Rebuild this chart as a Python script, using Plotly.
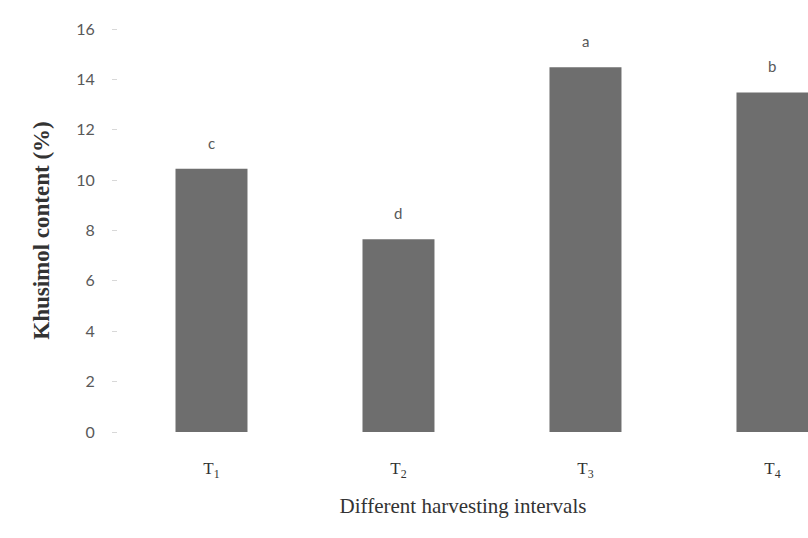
import plotly.graph_objects as go

categories = ["T<sub>1</sub>", "T<sub>2</sub>", "T<sub>3</sub>", "T<sub>4</sub>"]
values = [10.45, 7.65, 14.48, 13.48]
letters = ["c", "d", "a", "b"]
y_ticks = [0, 2, 4, 6, 8, 10, 12, 14, 16]

fig = go.Figure()
fig.add_trace(go.Bar(x=categories, y=values, marker=dict(color="#6e6e6e", line=dict(width=0)),
                     width=0.385))

for c, v, l in zip(categories, values, letters):
    fig.add_annotation(x=c, y=v, text=l, showarrow=False, yshift=26,
                       font=dict(family="Lato, Open Sans, sans-serif", size=15, color="#595959"))

fig.update_layout(
    width=808, height=538,
    margin=dict(l=118, r=0, t=29, b=106),
    plot_bgcolor="white", paper_bgcolor="white",
    showlegend=False,
    xaxis=dict(
        range=[-0.5, 3.19],
        showline=False, showgrid=False, ticks="",
        ticklabelstandoff=24,
        tickfont=dict(family="Liberation Serif, Times New Roman, serif", size=17, color="#333333"),
        title=dict(text="Different harvesting intervals",
                   font=dict(family="Liberation Serif, Times New Roman, serif", size=21, color="#333333"),
                   standoff=18),
    ),
    yaxis=dict(
        range=[0, 16], tickvals=y_ticks,
        showline=False, showgrid=False, zeroline=False,
        ticks="outside", ticklen=5, tickcolor="#d8d8d8",
        ticklabelstandoff=14,
        tickfont=dict(family="Lato, Open Sans, sans-serif", size=16, color="#595959"),
        title=dict(text="<b>Khusimol content (%)</b>",
                   font=dict(family="Liberation Serif, Times New Roman, serif", size=23, color="#333333"),
                   standoff=20),
    ),
)

fig.write_html("out.html")
